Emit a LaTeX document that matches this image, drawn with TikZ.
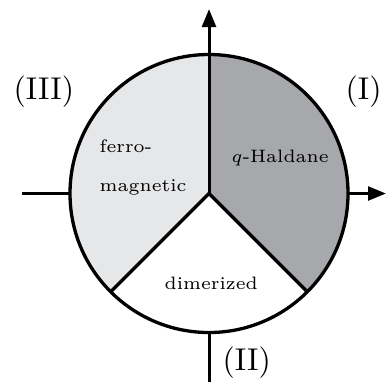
\documentclass[tikz,border=0pt]{standalone}
\usetikzlibrary{arrows.meta,calc}
\definecolor{darkg}{RGB}{167,168,171}
\definecolor{lightg}{RGB}{230,231,233}
\begin{document}
\begin{tikzpicture}[x=0.33333pt,y=0.33333pt,line width=1.1pt,
  ax/.style={line width=1pt},
  axarrow/.style={ax,-{Triangle[length=6pt,width=4.6pt]}},
  phase/.style={inner sep=0pt,anchor=base west,font=\fontsize{6}{7}\selectfont},
  region/.style={inner sep=0pt,anchor=base west,font=\fontsize{10.5}{12}\selectfont}]
\useasboundingbox (0,0) rectangle (386,382);
\coordinate (O) at (209,188.5);
\coordinate (N) at (209,327.5);
\coordinate (E) at (348,188.5);
\coordinate (W) at (70,188.5);
\coordinate (S) at (209,49.5);
\coordinate (SE) at ($(O)+(-45:139)$);
\coordinate (SW) at ($(O)+(-135:139)$);
\coordinate (T) at (209,373);
\coordinate (Rt) at (386,188.5);
\coordinate (Lt) at (22,188.5);
\coordinate (Bt) at (209,0);
% sectors
\fill[darkg] (O) -- (N) arc[start angle=90,end angle=-45,radius=139] -- cycle;
\fill[lightg] (O) -- (N) arc[start angle=90,end angle=225,radius=139] -- cycle;
\draw (O) circle[radius=139];
\draw (SW) -- (O) -- (SE);
% axes
\draw[axarrow] (O) -- (T);
\draw[axarrow] (E) -- (Rt);
\draw[ax] (Lt) -- (W);
\draw[ax] (S) -- (Bt);
% texts
\node[phase] (ferro) at (98,230) {ferro-};
\node[phase] (magn) at (98,191) {magnetic};
\node[phase] (hald) at (230,220) {$q$-Haldane};
\node[phase] (dim) at (163,93) {dimerized};
\node[region] (r3) at (12,283) {(III)};
\node[region] (r1) at (344,283) {(I)};
\node[region] (r2) at (221,12) {(II)};
\end{tikzpicture}
\end{document}
